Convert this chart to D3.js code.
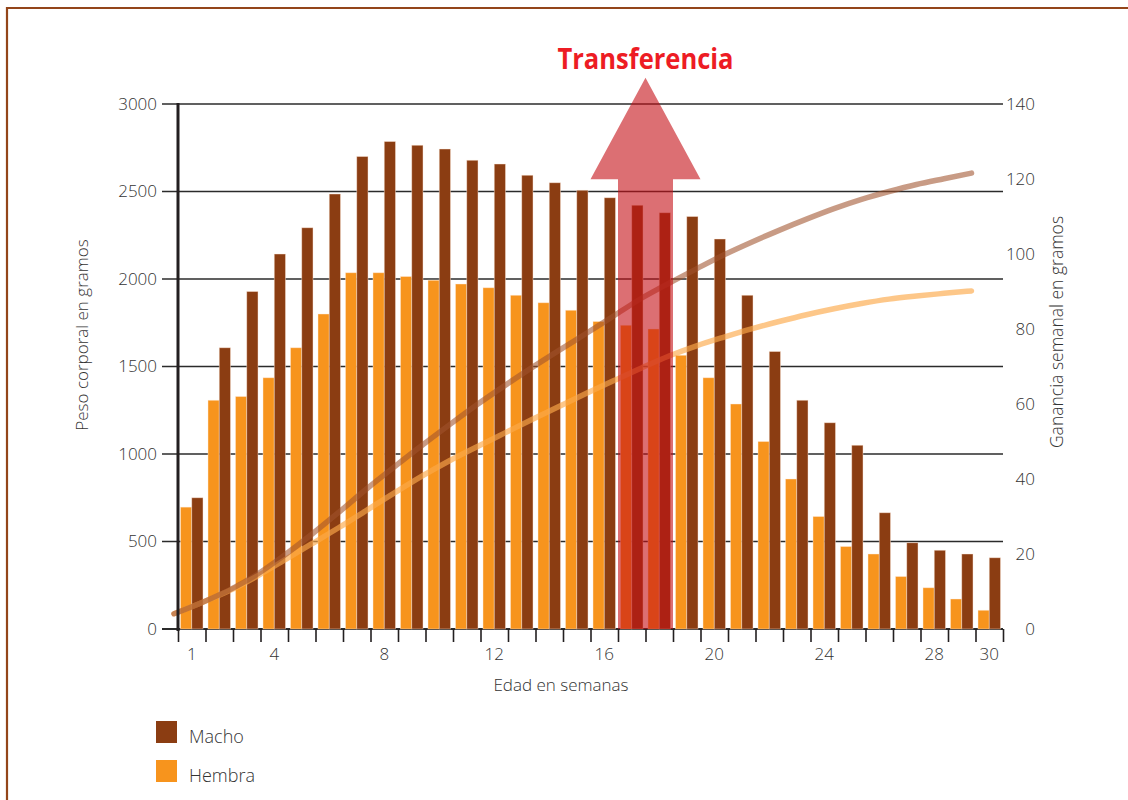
<!DOCTYPE html>
<html>
<head>
<meta charset="utf-8">
<script src="https://cdn.jsdelivr.net/npm/d3@7"></script>
<style>
  html, body { margin: 0; padding: 0; background: #fff; }
  svg { display: block; font-family: "Open Sans", "Noto Sans", sans-serif; }
  .lbl { font-weight: 300; }
</style>
</head>
<body>
<svg id="chart" width="1128" height="800"></svg>
<script>
// ---------------- DATA ----------------
const weeks = d3.range(1, 31);
// Weekly gain (g) – bars, right axis
const gainMacho  = [35, 75, 90, 100, 107, 116, 126, 130, 129, 128, 125, 124, 121, 119, 117,
                    115, 113, 111, 110, 104, 89, 74, 61, 55, 49, 31, 23, 21, 20, 19];
const gainHembra = [32.5, 61, 62, 67, 75, 84, 95, 95, 94, 93, 92, 91, 89, 87, 85,
                    82, 81, 80, 73, 67, 60, 50, 40, 30, 22, 20, 14, 11, 8, 5];
// Body weight (g) – lines, left axis
const pesoMacho  = [87, 150, 222, 310, 420, 540, 668, 800, 925, 1047, 1165, 1280, 1388, 1492, 1592,
                    1690, 1790, 1890, 1976, 2058, 2138, 2210, 2278, 2342, 2402, 2455, 2500, 2540, 2573, 2605];
const pesoHembra = [87, 150, 218, 300, 392, 486, 580, 678, 776, 872, 960, 1040, 1118, 1196, 1272,
                    1347, 1420, 1492, 1560, 1618, 1668, 1715, 1757, 1796, 1830, 1860, 1885, 1903, 1918, 1932];
const leftTicks   = [0, 500, 1000, 1500, 2000, 2500, 3000];
const rightTicks  = [0, 20, 40, 60, 80, 100, 120, 140];
const bottomTicks = [1, 4, 8, 12, 16, 20, 24, 28, 30];
const series      = ["Hembra", "Macho"];
const transferWeeks = [17, 18];
const arrowHeadBase = 2570;  // in left-axis units
const arrowTip      = 3150;

// ---------------- STYLE ----------------
const colMacho = "#8b3d12", colHembra = "#f7941d";
const axisCol = "#231f20", textCol = "#333";

const svg = d3.select("#chart");

// frame border
svg.append("path")
  .attr("d", "M7,800 V8 H1128")
  .attr("fill", "none").attr("stroke", "#93451a").attr("stroke-width", 2.2);

// ---------------- SCALES ----------------
const x = d3.scaleBand().domain(weeks).range([178, 1003]).padding(0);
const xSub = d3.scaleBand().domain(series).range([0, x.bandwidth()]).paddingInner(0).paddingOuter(0.222);
const xEdge = d3.scaleLinear().domain([0, 30]).range([178, 1003]);
const xLine = d3.scaleLinear().domain([1, 30]).range([x(1) - 4, x(30) - 4]);
const yL = d3.scaleLinear().domain([0, 3000]).range([629, 104]);
const yR = d3.scaleLinear().domain([0, 140]).range([629, 104]);

// ---------------- GRID ----------------
svg.append("g").selectAll("line").data(leftTicks).join("line")
  .attr("x1", 162).attr("x2", 1003)
  .attr("y1", d => yL(d)).attr("y2", d => yL(d))
  .attr("stroke", "#2b2b2b").attr("stroke-width", d => d === 0 ? 2.2 : 1.4);

// ---------------- BARS ----------------
const barData = weeks.map((w, i) => ({ w, Hembra: gainHembra[i], Macho: gainMacho[i] }));
const gBars = svg.append("g");
gBars.selectAll("g").data(barData).join("g")
  .attr("transform", d => `translate(${x(d.w)},0)`)
  .selectAll("rect")
  .data(d => series.map(s => ({ s, v: d[s] })))
  .join("rect")
  .attr("x", d => xSub(d.s))
  .attr("width", xSub.bandwidth())
  .attr("y", d => yR(d.v))
  .attr("height", d => yR(0) - yR(d.v))
  .attr("fill", d => d.s === "Macho" ? colMacho : colHembra)
  .attr("stroke", "rgba(255,235,220,0.55)")
  .attr("stroke-width", 0.8);

// ---------------- LINES ----------------
const line = d3.line()
  .x((d, i) => xLine(weeks[i]))
  .y(d => yL(d))
  .curve(d3.curveMonotoneX);

svg.append("path").datum(pesoHembra)
  .attr("d", line).attr("fill", "none")
  .attr("stroke", "#fca94a").attr("stroke-opacity", 0.65)
  .attr("stroke-width", 5.5).attr("stroke-linecap", "round");
svg.append("path").datum(pesoMacho)
  .attr("d", line).attr("fill", "none")
  .attr("stroke", "#a0522d").attr("stroke-opacity", 0.58)
  .attr("stroke-width", 5.5).attr("stroke-linecap", "round");

// ---------------- AXES ----------------
// left axis
const gL = svg.append("g").attr("transform", "translate(178,0)")
  .call(d3.axisLeft(yL).tickValues(leftTicks).tickSize(0).tickPadding(21).tickFormat(d3.format("d")));
gL.select(".domain").remove();
gL.selectAll("text").attr("class", "lbl").attr("fill", textCol).style("font-size", "17px").style("font-family", "Open Sans");
svg.append("line").attr("x1", 178).attr("x2", 178).attr("y1", yL(3000) - 1).attr("y2", yL(0) + 2)
  .attr("stroke", axisCol).attr("stroke-width", 3);

// right axis
const gR = svg.append("g").attr("transform", "translate(1003,0)")
  .call(d3.axisRight(yR).tickValues(rightTicks).tickSize(0).tickPadding(0));
gR.select(".domain").remove();
gR.selectAll("text").attr("class", "lbl").attr("fill", textCol).attr("text-anchor", "end").attr("x", 32)
  .style("font-size", "17px").style("font-family", "Open Sans");

// bottom ticks at band edges
const gB = svg.append("g").attr("transform", `translate(0,${yL(0)})`)
  .call(d3.axisBottom(xEdge).tickValues(d3.range(0, 31)).tickSize(13).tickFormat(""));
gB.select(".domain").remove();
gB.selectAll("line").attr("stroke", axisCol).attr("stroke-width", 1.6);

// bottom labels at band centers
const gB2 = svg.append("g").attr("transform", `translate(0,${yL(0)})`)
  .call(d3.axisBottom(x).tickValues(bottomTicks).tickSize(0).tickPadding(19));
gB2.select(".domain").remove();
gB2.selectAll("text").attr("class", "lbl").attr("fill", textCol).style("font-size", "17px").style("font-family", "Open Sans");

// axis titles
svg.append("text").text("Edad en semanas").attr("class", "lbl")
  .attr("x", 561).attr("y", 691).attr("text-anchor", "middle")
  .attr("fill", textCol).style("font-size", "17px");
svg.append("text").text("Peso corporal en gramos").attr("class", "lbl")
  .attr("transform", "translate(88,335) rotate(-90)").attr("text-anchor", "middle")
  .attr("fill", textCol).style("font-size", "17px");
svg.append("text").text("Ganancia semanal en gramos").attr("class", "lbl")
  .attr("transform", "translate(1063,332) rotate(-90)").attr("text-anchor", "middle")
  .attr("fill", textCol).style("font-size", "17.5px");

// ---------------- TRANSFER ARROW ----------------
const sx0 = x(transferWeeks[0]), sx1 = x(transferWeeks[1]) + x.bandwidth();
const hx0 = x(transferWeeks[0] - 1), hx1 = x(transferWeeks[1] + 1) + x.bandwidth();
const cx = (sx0 + sx1) / 2;
const arrowPts = [
  [sx0, yL(0)], [sx0, yL(arrowHeadBase)], [hx0, yL(arrowHeadBase)],
  [cx, yL(arrowTip)],
  [hx1, yL(arrowHeadBase)], [sx1, yL(arrowHeadBase)], [sx1, yL(0)]
];
svg.append("path")
  .attr("d", d3.line()(arrowPts) + "Z")
  .attr("fill", "#c50f16").attr("fill-opacity", 0.6);

svg.append("text").text("Transferencia")
  .attr("x", cx).attr("y", 69).attr("text-anchor", "middle")
  .attr("fill", "#ed1c24").style("font-weight", "bold").style("font-size", "28px")
  .attr("textLength", 176).attr("lengthAdjust", "spacingAndGlyphs");

// ---------------- LEGEND ----------------
const legend = svg.append("g").attr("transform", "translate(156,721)");
const legItems = [{ s: "Macho", c: colMacho }, { s: "Hembra", c: colHembra }];
const li = legend.selectAll("g").data(legItems).join("g")
  .attr("transform", (d, i) => `translate(0,${i * 39})`);
li.append("rect").attr("width", 21).attr("height", 22).attr("fill", d => d.c);
li.append("text").text(d => d.s).attr("class", "lbl").attr("x", 33).attr("y", 22)
  .attr("fill", textCol).style("font-size", "18px");
</script>
</body>
</html>
